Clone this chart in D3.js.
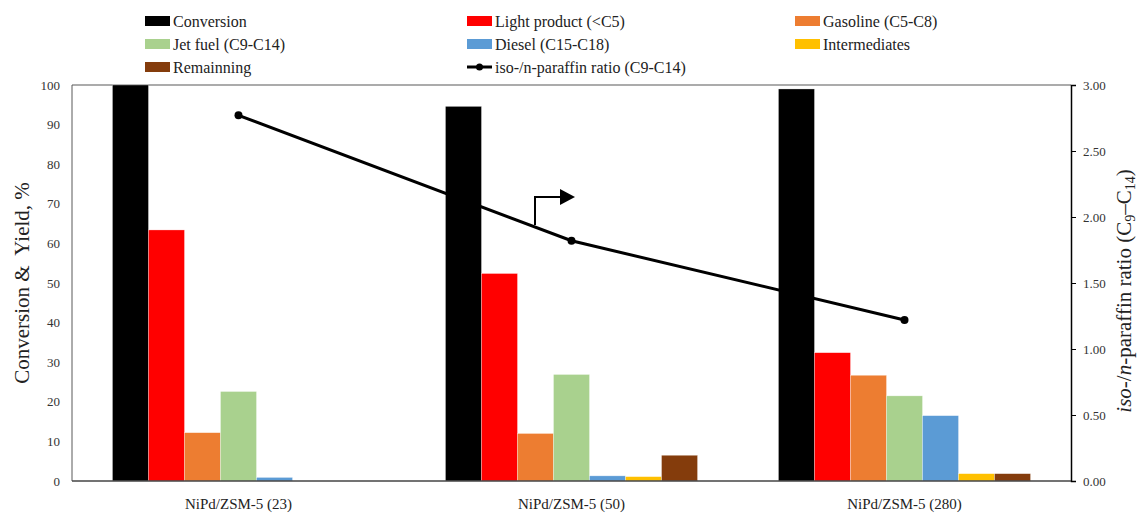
<!DOCTYPE html>
<html>
<head>
<meta charset="utf-8">
<script src="https://cdn.jsdelivr.net/npm/d3@7"></script>
<style>
  body { margin: 0; background: #fff; }
  text { font-family: "Liberation Serif", "Times New Roman", serif; fill: #222; }
</style>
</head>
<body>
<div id="chart"></div>
<script>
// catalysts on the x axis
var categories = ["NiPd/ZSM-5 (23)", "NiPd/ZSM-5 (50)", "NiPd/ZSM-5 (280)"];

// bar series (left axis, %)
var seriesNames = ["Conversion", "Light product (<C5)", "Gasoline (C5-C8)", "Jet fuel (C9-C14)",
                   "Diesel (C15-C18)", "Intermediates", "Remainning"];
var conversion    = [100, 94.6, 99.0];
var lightProduct  = [63.4, 52.4, 32.4];
var gasoline      = [12.2, 12.0, 26.7];
var jetFuel       = [22.6, 26.9, 21.5];
var diesel        = [0.9, 1.3, 16.5];
var intermediates = [0, 1.1, 1.85];
var remaining     = [0, 6.5, 1.85];

// line series (right axis)
var lineName = "iso-/n-paraffin ratio (C9-C14)";
var isoRatio = [2.77, 1.82, 1.22];

var leftTicks = [0, 10, 20, 30, 40, 50, 60, 70, 80, 90, 100];
var rightTicks = [0, 0.5, 1, 1.5, 2, 2.5, 3];

var colors = ["#000000", "#FF0000", "#ED7D31", "#A9D18E", "#5B9BD5", "#FFC000", "#843C0C"];
var barSeries = [conversion, lightProduct, gasoline, jetFuel, diesel, intermediates, remaining];

var W = 1138, H = 513;
var pL = 72, pR = 1071, pT = 85, pB = 481;

var svg = d3.select("#chart").append("svg")
  .attr("width", W)
  .attr("height", H);

var x0 = d3.scaleBand().domain(categories).range([pL, pR]).paddingInner(0.243).paddingOuter(0.1215);
var x1 = d3.scaleBand().domain(d3.range(seriesNames.length)).range([0, x0.bandwidth()]);
var y = d3.scaleLinear().domain([0, 100]).range([pB, pT]);
var y2 = d3.scaleLinear().domain([0, 3]).range([pB, pT]);

// frame (top and left border)
svg.append("line").attr("x1", pL).attr("x2", pR).attr("y1", pT).attr("y2", pT)
  .attr("stroke", "#595959").attr("stroke-width", 1.2);
svg.append("line").attr("x1", pL).attr("x2", pL).attr("y1", pT).attr("y2", pB)
  .attr("stroke", "#595959").attr("stroke-width", 1);

// bars
var groups = svg.selectAll("g.grp")
  .data(categories)
  .enter().append("g")
  .attr("class", "grp")
  .attr("transform", function(d) { return "translate(" + x0(d) + ",0)"; });

groups.selectAll("rect")
  .data(function(d, i) { return barSeries.map(function(s, k) { return { k: k, v: s[i] }; }); })
  .enter().append("rect")
  .attr("x", function(d) { return x1(d.k); })
  .attr("y", function(d) { return y(d.v); })
  .attr("width", x1.bandwidth())
  .attr("height", function(d) { return pB - y(d.v); })
  .attr("fill", function(d) { return colors[d.k]; })
  .attr("stroke", "#fff")
  .attr("stroke-opacity", 0.5)
  .attr("stroke-width", 0.6);

// left axis: labels only
var yAxis = svg.append("g")
  .attr("transform", "translate(" + pL + ",0)")
  .call(d3.axisLeft(y).tickValues(leftTicks).tickSize(0).tickPadding(12));
yAxis.select(".domain").remove();
yAxis.selectAll("text").style("font-size", "13px").style("fill", "#333");

// right axis
var yAxisR = svg.append("g")
  .attr("transform", "translate(" + pR + ",0)")
  .call(d3.axisRight(y2).tickValues(rightTicks).tickFormat(d3.format(".2f")).tickSize(5).tickPadding(7));
yAxisR.select(".domain").attr("stroke", "#000").attr("stroke-width", 1.5);
yAxisR.selectAll(".tick line").attr("stroke", "#000");
yAxisR.selectAll("text").style("font-size", "13px").style("fill", "#333");

// bottom axis
var xAxis = svg.append("g")
  .attr("transform", "translate(0," + pB + ")")
  .call(d3.axisBottom(x0).tickSize(0).tickPadding(17));
xAxis.select(".domain").attr("stroke", "#444").attr("stroke-width", 1.3)
  .attr("d", "M" + pL + ",0H" + pR);
xAxis.selectAll("text").style("font-size", "15px").style("fill", "#222");

// ratio line
var line = d3.line()
  .x(function(d, i) { return x0(categories[i]) + x0.bandwidth() / 2; })
  .y(function(d) { return y2(d); });
svg.append("path").datum(isoRatio)
  .attr("d", line)
  .attr("fill", "none")
  .attr("stroke", "#000")
  .attr("stroke-width", 3);
svg.selectAll("circle.pt").data(isoRatio).enter().append("circle")
  .attr("class", "pt")
  .attr("cx", function(d, i) { return x0(categories[i]) + x0.bandwidth() / 2; })
  .attr("cy", function(d) { return y2(d); })
  .attr("r", 4)
  .attr("fill", "#000");

// arrow pointing to right axis
svg.append("path")
  .attr("d", "M535,225V197H561")
  .attr("fill", "none").attr("stroke", "#000").attr("stroke-width", 2);
svg.append("path")
  .attr("d", "M560,189L575,197L560,205Z")
  .attr("fill", "#000");

// axis titles
svg.append("text")
  .attr("transform", "translate(29," + ((pT + pB) / 2) + ") rotate(-90)")
  .attr("text-anchor", "middle")
  .style("font-size", "21px")
  .style("white-space", "pre")
  .text("Conversion &  Yield, %");

var rt = svg.append("text")
  .attr("transform", "translate(1131," + ((pT + pB) / 2 + 8) + ") rotate(-90)")
  .attr("text-anchor", "middle")
  .style("font-size", "21px");
rt.append("tspan").style("font-style", "italic").text("iso");
rt.append("tspan").text("-/");
rt.append("tspan").style("font-style", "italic").text("n");
rt.append("tspan").text("-paraffin ratio (C");
rt.append("tspan").attr("dy", 4).style("font-size", "14px").text("9");
rt.append("tspan").attr("dy", -4).text("–C");
rt.append("tspan").attr("dy", 4).style("font-size", "14px").text("14");
rt.append("tspan").attr("dy", -4).text(")");

// legend
var legendItems = seriesNames.map(function(n, i) { return { name: n, color: colors[i], type: "bar" }; });
legendItems.push({ name: lineName, color: "#000", type: "line" });
var colX = [145, 467, 795];
var rowY = [21, 44, 67];

var leg = svg.selectAll("g.leg").data(legendItems).enter().append("g")
  .attr("class", "leg")
  .attr("transform", function(d, i) { return "translate(" + colX[i % 3] + "," + rowY[Math.floor(i / 3)] + ")"; });

leg.filter(function(d) { return d.type == "bar"; }).append("rect")
  .attr("x", 0).attr("y", -5).attr("width", 25).attr("height", 10)
  .attr("fill", function(d) { return d.color; });
leg.filter(function(d) { return d.type == "line"; }).append("line")
  .attr("x1", 0).attr("x2", 25).attr("y1", 0).attr("y2", 0)
  .attr("stroke", "#000").attr("stroke-width", 3);
leg.filter(function(d) { return d.type == "line"; }).append("circle")
  .attr("cx", 12.5).attr("cy", 0).attr("r", 3.5).attr("fill", "#000");
leg.append("text")
  .attr("x", 28).attr("y", 0).attr("dy", "0.35em")
  .style("font-size", "16px")
  .text(function(d) { return d.name; });
</script>
</body>
</html>
